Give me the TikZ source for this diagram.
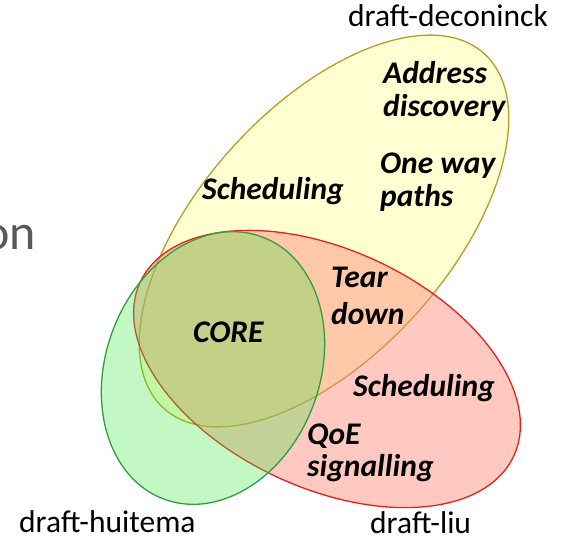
\documentclass[tikz,border=0pt]{standalone}
\usepackage{fontspec}
\setmainfont{Carlito}
\definecolor{yfill}{RGB}{255,255,210}
\definecolor{yline}{RGB}{184,156,40}
\definecolor{rfill}{RGB}{255,135,117}
\definecolor{rline}{RGB}{232,32,28}
\definecolor{gfill}{RGB}{67,230,67}
\definecolor{gline}{RGB}{46,160,67}
\definecolor{slidegray}{RGB}{89,89,89}
\begin{document}
\begin{tikzpicture}[x=1pt,y=1pt]
\useasboundingbox (0,0) rectangle (563,541);
\tikzset{
  lbl/.style={font=\fontsize{31.5}{33}\selectfont\bfseries\itshape, inner sep=0, align=left, anchor=base west},
  tag/.style={font=\fontsize{31.5}{34}\selectfont, inner sep=0, anchor=base west},
  setline/.style={line width=1.3pt}
}
% yellow set
\path[rotate around={47.9:(324,310)}, fill=yfill, draw=yline, setline]
  (324,310) ellipse [x radius=239, y radius=124];
% red set
\path[rotate around={-25:(327,172)}, fill=rfill, fill opacity=0.45, draw=rline, setline]
  (327,172) ellipse [x radius=206, y radius=119];
% green set
\path[rotate around={69.3:(213,173)}, fill=gfill, fill opacity=0.32, draw=gline, setline]
  (213,173) ellipse [x radius=140, y radius=107];

\node[font=\fontsize{50}{52}\selectfont, text=slidegray, inner sep=0, anchor=base east] (on) at (36,291) {on};

\node[tag, anchor=base] (dec) at (448,514) {draft-deconinck};
\node[tag] (hui) at (19,8) {draft-huitema};
\node[tag] (liu) at (370,7) {draft-liu};

\node[lbl] (addr) at (383,424) {Address\\discovery};
\node[lbl] (oneway) at (380,334) {One way\\paths};
\node[lbl] (sch1) at (202,341) {Scheduling};
\node[lbl] (core) at (193,198) {CORE};
\node[lbl, font=\fontsize{31.5}{37}\selectfont\bfseries\itshape] (tear) at (331,216) {Tear\\down};
\node[lbl] (sch2) at (353,144) {Scheduling};
\node[lbl, font=\fontsize{31.5}{32}\selectfont\bfseries\itshape] (qoe) at (307,64) {QoE\\signalling};
\end{tikzpicture}
\end{document}
